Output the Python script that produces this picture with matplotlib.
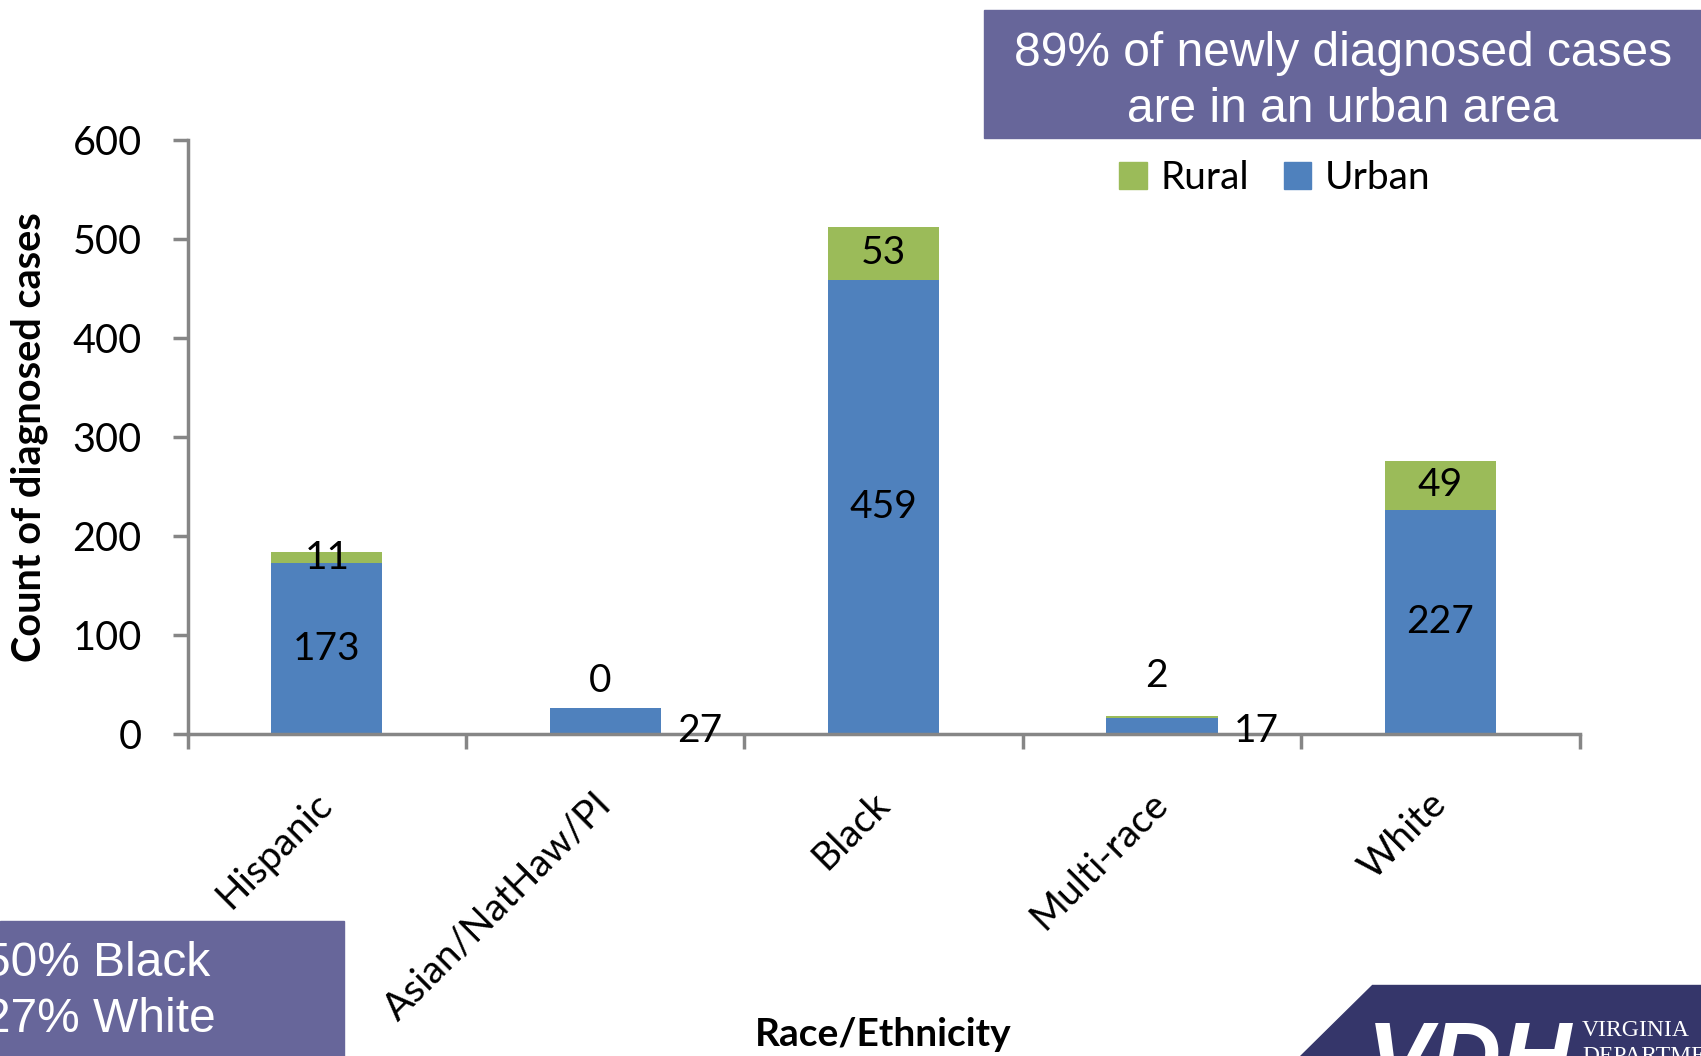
import matplotlib
matplotlib.use("Agg")
import matplotlib.pyplot as plt
from matplotlib.patches import Rectangle, Polygon, Patch
import numpy as np

# data
groups = ["Hispanic", "Asian/NatHaw/PI", "Black", "Multi-race", "White"]
urban = [173, 27, 459, 17, 227]
rural = [11, 0, 53, 2, 49]

blue = "#4F81BD"
green = "#9BBB59"
box_col = "#67669A"
navy = "#35366A"
axis_gray = "#868686"

plt.rcParams["font.family"] = ["Lato", "DejaVu Sans"]

fig = plt.figure(figsize=(17.01, 10.56), dpi=100)
ax = fig.add_axes([0.1103, 0.3045, 0.8183, 0.5629])

x = np.arange(len(groups))
w = 0.4
ax.bar(x, urban, w, color=blue, label="Urban", zorder=2)
ax.bar(x, rural, w, bottom=urban, color=green, label="Rural", zorder=2)

# value labels, small segments get pushed outside like in excel
lab_fs = 28
for i in range(len(groups)):
    u, r = urban[i], rural[i]
    if u >= 40:
        ax.text(x[i], u / 2, str(u), ha="center", va="center", fontsize=lab_fs)
    else:
        ax.text(x[i] + 0.34, 3, str(u), ha="center", va="center", fontsize=lab_fs)
    if r >= 10:
        ax.text(x[i], u + r / 2, str(r), ha="center", va="center", fontsize=lab_fs)
    else:
        off = 27 if r == 0 else 40
        ax.text(x[i] - 0.02, u + r + off, str(r), ha="center", va="center", fontsize=lab_fs)

ax.set_xlim(-0.5, len(groups) - 0.5)
ax.set_ylim(0, 600)
ax.set_yticks(range(0, 601, 100))
ax.set_xticks(x)
ax.set_xticklabels(groups, rotation=45, ha="right", va="center", rotation_mode="anchor")
ax.set_xticks(np.arange(-0.5, len(groups)), minor=True)
ax.tick_params(axis="x", which="major", length=0, pad=46, labelsize=28)
ax.tick_params(axis="x", which="minor", length=11, width=2.5, color=axis_gray, direction="out")
ax.tick_params(axis="y", length=11, width=2.5, color=axis_gray, direction="out", pad=22, labelsize=28.5)

for s in ["top", "right"]:
    ax.spines[s].set_visible(False)
for s in ["left", "bottom"]:
    ax.spines[s].set_color(axis_gray)
    ax.spines[s].set_linewidth(2.5)

ax.set_ylabel("Count of diagnosed cases", fontsize=28.5, fontweight="bold")
ax.yaxis.set_label_coords(-0.100, 0.5)
ax.set_xlabel("Race/Ethnicity", fontsize=28, fontweight="bold", va="center")
ax.xaxis.set_label_coords(0.5, -0.504)

handles = [Patch(color=green), Patch(color=blue)]
fig.legend(handles, ["Rural", "Urban"], loc="center", bbox_to_anchor=(0.7495, 0.8314),
           ncol=2, frameon=False, fontsize=28, handlelength=0.7, handleheight=0.7,
           handletextpad=0.35, columnspacing=0.9)

# call-out boxes
W, H = 1701, 1056
fig.patches.append(Rectangle((984 / W, 1 - 138 / H), 1 - 984 / W, 128 / H,
                             transform=fig.transFigure, color=box_col, zorder=0))
fig.text(1343 / W, 1 - 53 / H, "89% of newly diagnosed cases", ha="center", va="center",
         color="white", fontsize=34.5, family="Liberation Sans")
fig.text(1343 / W, 1 - 110 / H, "are in an urban area", ha="center", va="center",
         color="white", fontsize=34.5, family="Liberation Sans")

fig.patches.append(Rectangle((0, 0), 344 / W, 1 - 921 / H,
                             transform=fig.transFigure, color=box_col, zorder=0))
fig.text(-16 / W, 1 - 964 / H, "50% Black", ha="left", va="center",
         color="white", fontsize=34.5, family="Liberation Sans")
fig.text(-16 / W, 1 - 1020 / H, "27% White", ha="left", va="center",
         color="white", fontsize=34.5, family="Liberation Sans")

# logo corner
fig.patches.append(Polygon([(1372 / W, 1 - 985 / H), (1, 1 - 985 / H), (1, 0), (1300 / W, 0)],
                           closed=True, transform=fig.transFigure, color=navy, zorder=0))
fig.text(1367 / W, 1 - 1020 / H, "VDH", ha="left", va="top", color="white",
         fontsize=70, fontweight="bold", fontstyle="italic", family="Liberation Sans")
fig.text(1582 / W, 1 - 1031 / H, "VIRGINIA", ha="left", va="center", color="white",
         fontsize=17, family="Liberation Serif")
fig.text(1582 / W, 1 - 1056 / H, "DEPARTMENT", ha="left", va="center", color="white",
         fontsize=17, family="Liberation Serif")

fig.savefig("out.png", dpi=100)
